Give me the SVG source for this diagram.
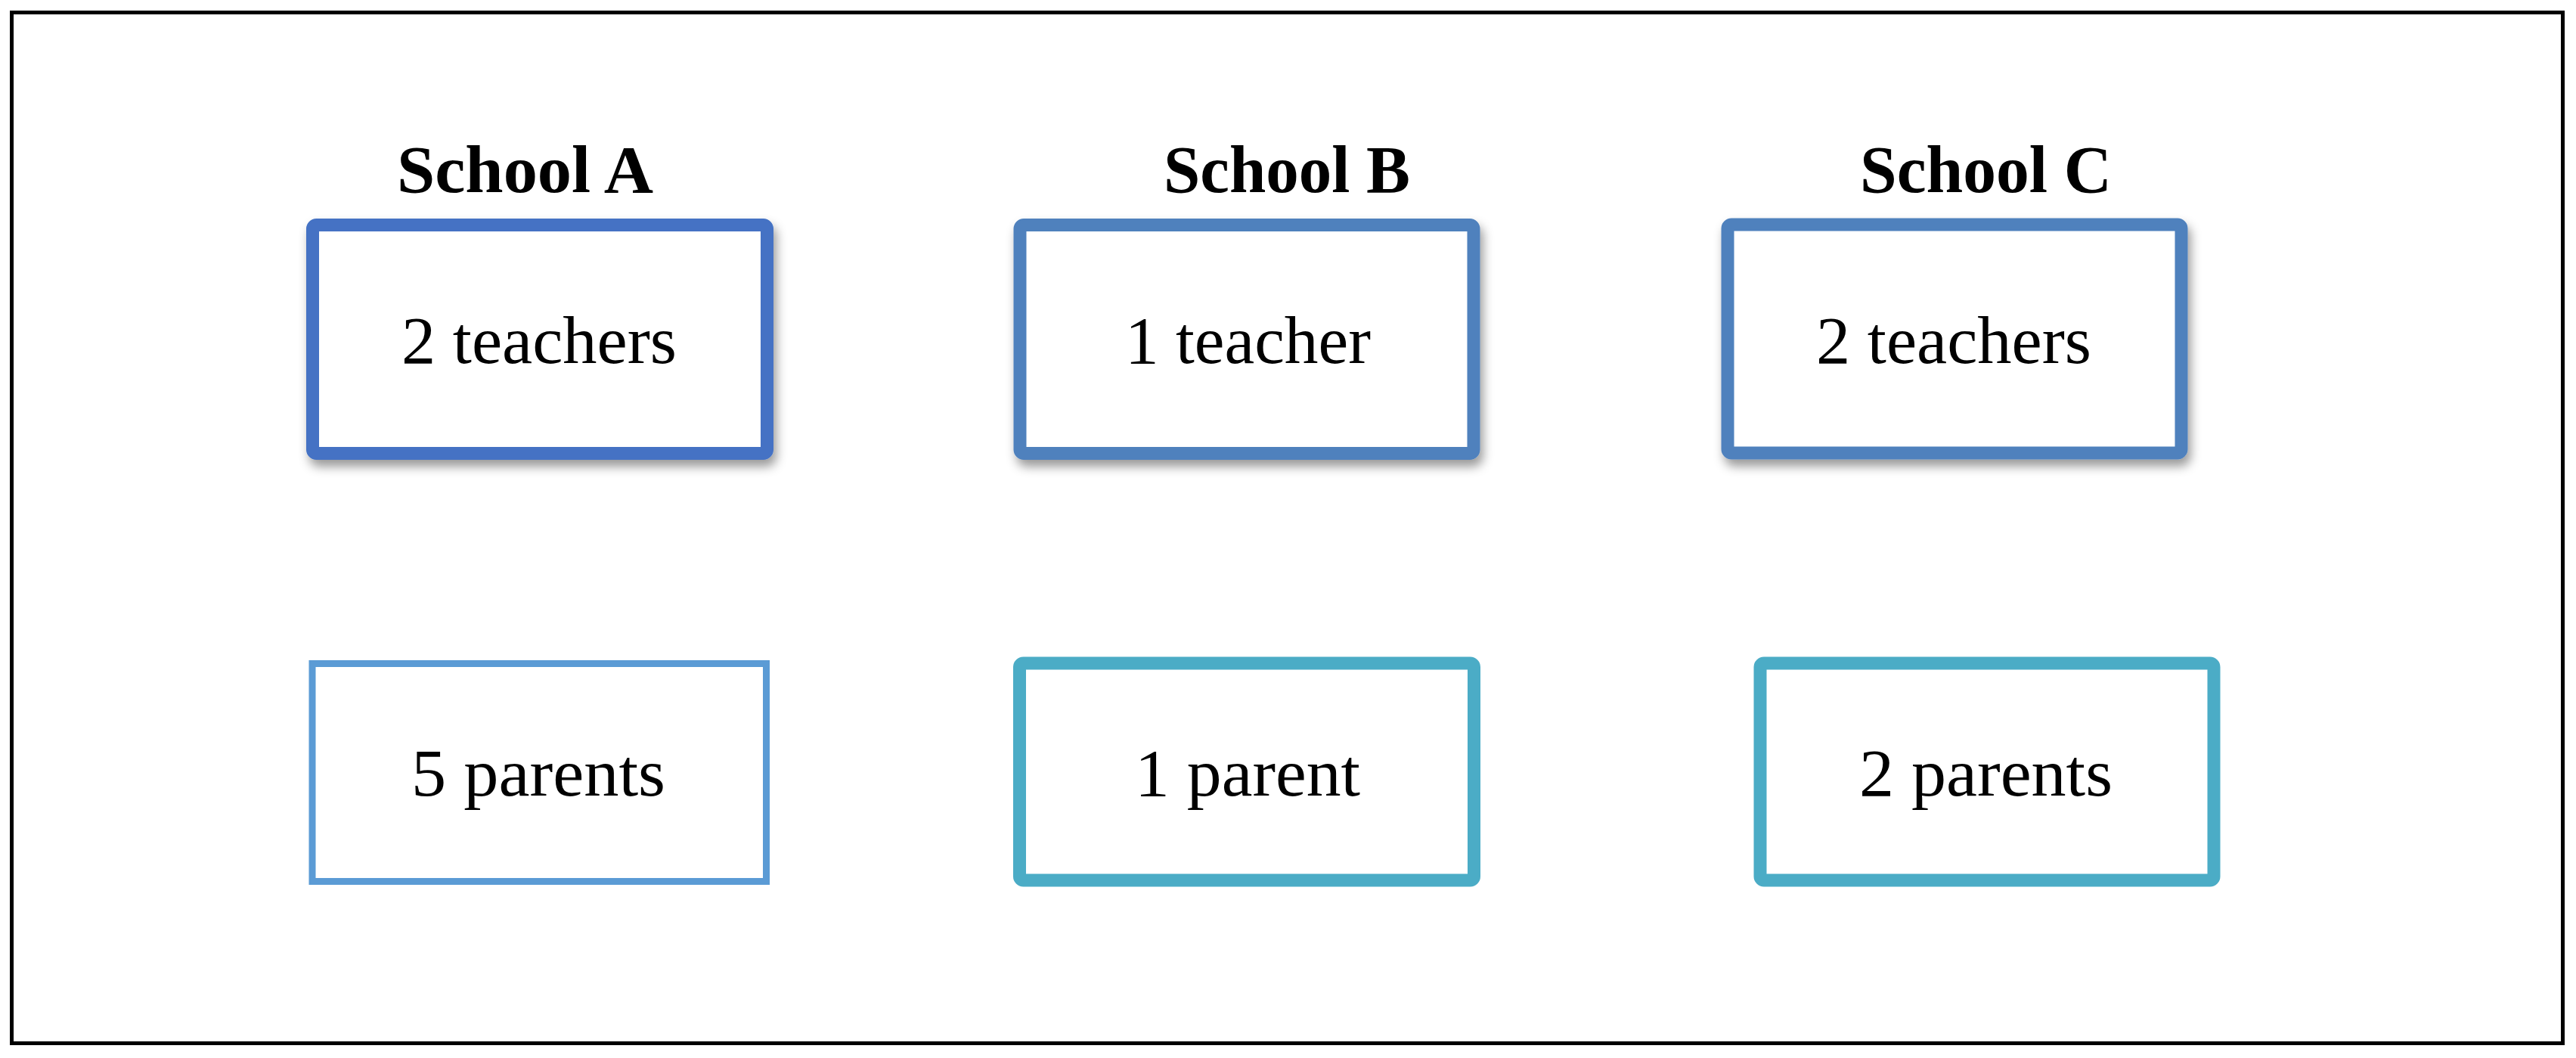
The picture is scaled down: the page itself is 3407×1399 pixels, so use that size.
<svg xmlns="http://www.w3.org/2000/svg" width="3407" height="1399" viewBox="0 0 3407 1399">
<defs>
<filter id="sh" x="-10%" y="-10%" width="125%" height="130%">
<feDropShadow dx="4" dy="9" stdDeviation="7" flood-color="#000" flood-opacity="0.4"/>
</filter>
<style>
.frame{fill:#fff;stroke:#000;stroke-width:5}
.top{fill:#fff;stroke-width:17}
.title{font-family:"Liberation Serif",serif;font-weight:bold;font-size:89px;fill:#000}
.lbl{font-family:"Liberation Serif",serif;font-size:88px;fill:#000}
</style>
</defs>
<rect class="frame" x="15.5" y="16.5" width="3374" height="1363"/>
<g id="schoolA">
<text class="title" x="525" y="254" textLength="339" lengthAdjust="spacingAndGlyphs">School A</text>
<rect class="top" x="413.5" y="297.5" width="601" height="302" rx="5" stroke="#4472C4" filter="url(#sh)"/>
<text class="lbl" x="531" y="480" textLength="364" lengthAdjust="spacingAndGlyphs">2 teachers</text>
</g>
<g id="schoolB">
<text class="title" x="1539" y="254" textLength="326" lengthAdjust="spacingAndGlyphs">School B</text>
<rect class="top" x="1349" y="297.5" width="600" height="302" rx="5" stroke="#4F81BD" filter="url(#sh)"/>
<text class="lbl" x="1488" y="480" textLength="325" lengthAdjust="spacingAndGlyphs">1 teacher</text>
</g>
<g id="schoolC">
<text class="title" x="2460" y="254" textLength="333" lengthAdjust="spacingAndGlyphs">School C</text>
<rect class="top" x="2285" y="297" width="600" height="302" rx="5" stroke="#4F81BD" filter="url(#sh)"/>
<text class="lbl" x="2402" y="480" textLength="364" lengthAdjust="spacingAndGlyphs">2 teachers</text>
</g>
<g id="parentsA">
<rect x="413" y="877.5" width="600.5" height="288" fill="#fff" stroke="#5B9BD5" stroke-width="9"/>
<text class="lbl" x="544" y="1052" textLength="336" lengthAdjust="spacingAndGlyphs">5 parents</text>
</g>
<g id="parentsB">
<rect x="1348.5" y="877" width="601" height="287" rx="5" fill="#fff" stroke="#4BACC6" stroke-width="17"/>
<text class="lbl" x="1501" y="1052" textLength="298" lengthAdjust="spacingAndGlyphs">1 parent</text>
</g>
<g id="parentsC">
<rect x="2328" y="877" width="600" height="287" rx="5" fill="#fff" stroke="#4BACC6" stroke-width="17"/>
<text class="lbl" x="2459" y="1052" textLength="335" lengthAdjust="spacingAndGlyphs">2 parents</text>
</g>
<g id="connectors"></g>
</svg>
